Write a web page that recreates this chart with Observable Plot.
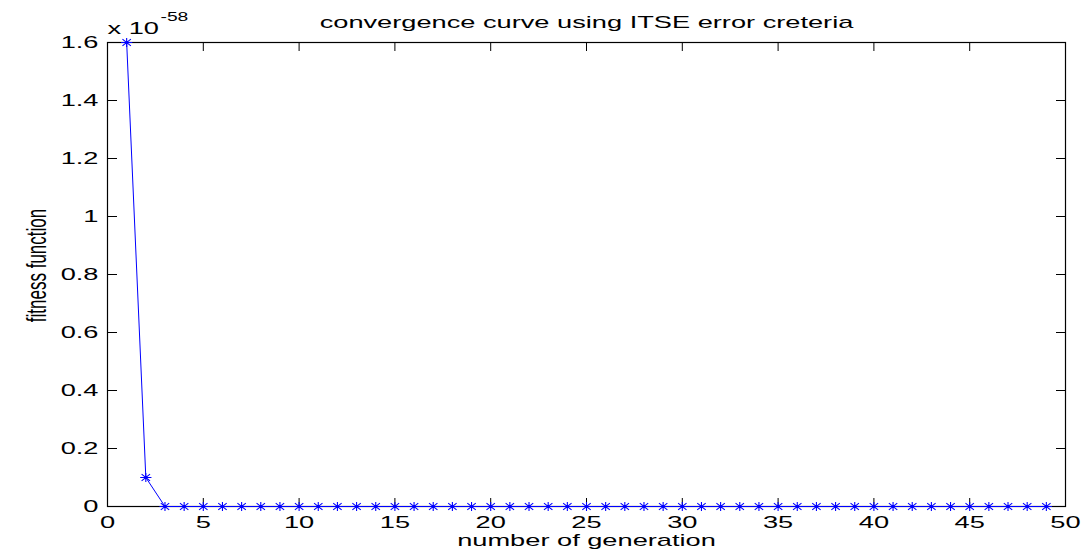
<!DOCTYPE html>
<html>
<head>
<meta charset="utf-8">
<script src="https://cdn.jsdelivr.net/npm/d3@7"></script>
<script src="https://cdn.jsdelivr.net/npm/@observablehq/plot@0.6"></script>
<style>
  html, body { margin: 0; padding: 0; background: #fff; }
  #chart svg { display: block; }
</style>
</head>
<body>
<div id="chart"></div>
<script>
// ---- data ----
const generation = [1, 2, 3, 4, 5, 6, 7, 8, 9, 10, 11, 12, 13, 14, 15, 16, 17, 18, 19, 20,
  21, 22, 23, 24, 25, 26, 27, 28, 29, 30, 31, 32, 33, 34, 35, 36, 37, 38, 39, 40,
  41, 42, 43, 44, 45, 46, 47, 48, 49];
// fitness values in units of 1e-58
const fitness = [1.6, 0.1, 0, 0, 0, 0, 0, 0, 0, 0, 0, 0, 0, 0, 0, 0, 0, 0, 0, 0,
  0, 0, 0, 0, 0, 0, 0, 0, 0, 0, 0, 0, 0, 0, 0, 0, 0, 0, 0, 0,
  0, 0, 0, 0, 0, 0, 0, 0, 0];
const xTicks = [0, 5, 10, 15, 20, 25, 30, 35, 40, 45, 50];
const yTicks = [0, 0.2, 0.4, 0.6, 0.8, 1, 1.2, 1.4, 1.6];
const titleText = "convergence curve using ITSE error creteria";
const xLabel = "number of generation";
const yLabel = "fitness function";
const multiplierBase = "x 10";
const multiplierExp = "-58";

const points = generation.map((g, i) => ({gen: g, fit: fitness[i]}));

// MATLAB-like 8-spoke asterisk marker (stretched horizontally like the reference)
const asterisk8 = {
  draw(context, size) {
    const r = Math.sqrt(size / Math.PI);
    const rx = r * 1.25, ry = r;
    const dx = rx * 0.75, dy = ry * 0.75;
    context.moveTo(-rx, 0); context.lineTo(rx, 0);
    context.moveTo(0, -ry); context.lineTo(0, ry);
    context.moveTo(-dx, -dy); context.lineTo(dx, dy);
    context.moveTo(-dx, dy); context.lineTo(dx, -dy);
  }
};

const blue = "#0000ff";

const chart = Plot.plot({
  width: 1084,
  height: 555,
  marginLeft: 107,
  marginRight: 19,
  marginTop: 42,
  marginBottom: 49,
  style: {fontFamily: "'Liberation Sans', Arial, Helvetica, sans-serif", fontSize: "17px", background: "#fff", color: "#000"},
  x: {domain: [0, 50]},
  y: {domain: [0, 1.6]},
  marks: [
    Plot.frame({stroke: "#000", strokeWidth: 1.2}),
    // inward ticks on all four sides
    Plot.axisX({anchor: "bottom", ticks: xTicks, tickSize: -8, text: null, label: null}),
    Plot.axisX({anchor: "top", ticks: xTicks, tickSize: -8, text: null, label: null}),
    Plot.axisY({anchor: "left", ticks: yTicks, tickSize: -10, text: null, label: null}),
    Plot.axisY({anchor: "right", ticks: yTicks, tickSize: -10, text: null, label: null}),
    // tick labels
    Plot.axisX({anchor: "bottom", ticks: xTicks, tickSize: 0, tickPadding: 9, label: null, tickFormat: d => String(d)}),
    Plot.axisY({anchor: "left", ticks: yTicks, tickSize: 0, tickPadding: 9, label: null, tickFormat: d => String(d)}),
    // data
    Plot.line(points, {x: "gen", y: "fit", stroke: blue, strokeWidth: 1}),
    Plot.dot(points, {x: "gen", y: "fit", r: 4.5, symbol: asterisk8, stroke: blue, strokeWidth: 1.1, fill: "none"}),
    // title and labels
    Plot.text([titleText], {frameAnchor: "top", lineAnchor: "bottom", dy: -15, text: d => d, fontSize: 17, textAnchor: "middle"}),
    Plot.text([xLabel], {frameAnchor: "bottom", lineAnchor: "bottom", dy: 39, text: d => d, fontSize: 17, textAnchor: "middle"}),
    Plot.text([yLabel], {frameAnchor: "left", dx: -70, dy: -9, rotate: -90, textAnchor: "middle", lineAnchor: "middle", text: d => d, fontSize: 17}),
    Plot.text([multiplierBase], {frameAnchor: "top-left", lineAnchor: "bottom", dy: -9, textAnchor: "start", text: d => d, fontSize: 17}),
    Plot.text([multiplierExp], {frameAnchor: "top-left", lineAnchor: "bottom", dx: 53, dy: -22, textAnchor: "start", text: d => d, fontSize: 12})
  ]
});

document.getElementById("chart").appendChild(chart);

// The reference is horizontally stretched (~1.6x); widen glyphs to match.
const STRETCH = 1.6;
chart.querySelectorAll("text").forEach(t => {
  const own = t.getAttribute("transform") || "";
  const parent = (t.parentNode && t.parentNode.getAttribute && t.parentNode.getAttribute("transform")) || "";
  if (own.includes("rotate") || parent.includes("rotate")) {
    // rotated y label: stretch glyph height (which is horizontal on screen)
    t.setAttribute("transform", own + " scale(1," + STRETCH + ")");
    return;
  }
  const len = t.getComputedTextLength();
  if (len > 0) {
    t.setAttribute("textLength", (len * STRETCH).toFixed(1));
    t.setAttribute("lengthAdjust", "spacingAndGlyphs");
  }
});
</script>
</body>
</html>
